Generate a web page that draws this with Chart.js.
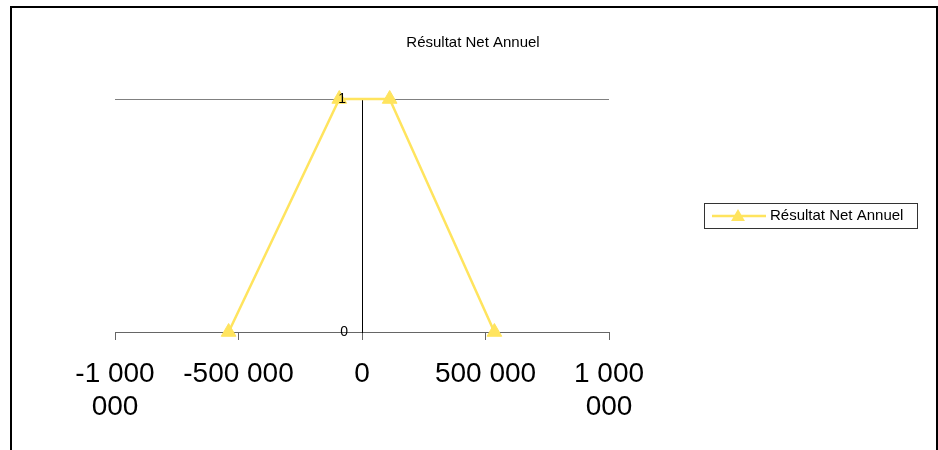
<!DOCTYPE html>
<html>
<head>
<meta charset="utf-8">
<script src="https://cdn.jsdelivr.net/npm/chart.js@4/dist/chart.umd.min.js"></script>
<style>
  html, body { margin: 0; padding: 0; background: #fff; }
  canvas { display: block; }
</style>
</head>
<body>
<canvas id="chart" width="938" height="450"></canvas>
<script>
/* global Chart */

const TITLE = 'Résultat Net Annuel'
const SERIES_NAME = 'Résultat Net Annuel'

// x = résultat, y = niveau
const resultX = [-540000, -92000, 112000, 536000]
const resultY = [0, 1, 1, 0]

const xTicks = [-1000000, -500000, 0, 500000, 1000000]
const xTickLabels = ['-1 000 000', '-500 000', '0', '500 000', '1 000 000']
const yTicks = [0, 1]
const yTickLabels = ['0', '1']

const YELLOW = '#FFE45E'
const FONT = "'Liberation Sans', Arial, sans-serif"

// long labels wrap on two lines like the original
const wrap = s => {
  if (s.length <= 8) return s
  const i = s.lastIndexOf(' ')
  return [s.slice(0, i), s.slice(i + 1)]
}

const triangle = (ctx, x, y, r) => {
  ctx.beginPath()
  ctx.moveTo(x, y - r)
  ctx.lineTo(x + r * Math.sqrt(3) / 2, y + r / 2)
  ctx.lineTo(x - r * Math.sqrt(3) / 2, y + r / 2)
  ctx.closePath()
  ctx.fill()
}

const decor = {
  id: 'decor',
  beforeDraw (chart) {
    const { ctx } = chart
    ctx.save()
    ctx.fillStyle = '#fff'
    ctx.fillRect(0, 0, chart.width, chart.height)
    ctx.restore()
  },
  afterDraw (chart) {
    const { ctx } = chart
    const { x, y } = chart.scales
    ctx.save()
    // outer frame
    ctx.strokeStyle = '#000'
    ctx.lineWidth = 2
    ctx.beginPath()
    ctx.moveTo(11, 450)
    ctx.lineTo(11, 7)
    ctx.lineTo(937, 7)
    ctx.lineTo(937, 450)
    ctx.stroke()

    ctx.fillStyle = '#000'
    ctx.textBaseline = 'middle'

    // y labels sit left of the zero axis
    ctx.font = '14px ' + FONT
    ctx.textAlign = 'right'
    const x0 = x.getPixelForValue(0)
    yTicks.forEach((v, i) => {
      ctx.fillText(yTickLabels[i], x0 - 14 + (v ? -2 : 0), y.getPixelForValue(v))
    })

    // title
    ctx.font = '15px ' + FONT
    ctx.textAlign = 'center'
    ctx.fillText(TITLE, 473, 43)

    // legend
    ctx.lineWidth = 1
    ctx.strokeStyle = '#333'
    ctx.strokeRect(704.5, 203.5, 213, 25)
    ctx.strokeStyle = YELLOW
    ctx.lineWidth = 2.5
    ctx.beginPath()
    ctx.moveTo(712, 216)
    ctx.lineTo(766, 216)
    ctx.stroke()
    ctx.fillStyle = YELLOW
    triangle(ctx, 738, 217, 8)
    ctx.fillStyle = '#000'
    ctx.textAlign = 'left'
    ctx.fillText(SERIES_NAME, 770, 216)
    ctx.restore()
  }
}

const ctx = document.getElementById('chart').getContext('2d')

new Chart(ctx, {
  type: 'scatter',
  data: {
    datasets: [{
      label: SERIES_NAME,
      data: resultX.map((x, i) => ({ x, y: resultY[i] })),
      showLine: true,
      borderColor: YELLOW,
      backgroundColor: YELLOW,
      borderWidth: 2.5,
      pointStyle: 'triangle',
      pointRadius: 8.5,
      pointHoverRadius: 8.5,
      pointBorderWidth: 1,
      clip: false
    }]
  },
  options: {
    responsive: false,
    animation: false,
    events: [],
    layout: { padding: { left: 115, right: 329, top: 99, bottom: 0 } },
    plugins: {
      legend: { display: false },
      title: { display: false },
      tooltip: { enabled: false }
    },
    scales: {
      x: {
        type: 'linear',
        min: -1000000,
        max: 1000000,
        afterBuildTicks: s => { s.ticks = xTicks.map(value => ({ value })) },
        afterFit: s => { s.height = 118 },
        grid: { drawOnChartArea: false, drawTicks: true, tickLength: 8, color: '#666' },
        border: { display: true, color: '#666' },
        ticks: {
          autoSkip: false,
          maxRotation: 0,
          padding: 17,
          color: '#000',
          font: { family: FONT, size: 28, lineHeight: 1.2 },
          callback: (v, i) => wrap(xTickLabels[i])
        }
      },
      y: {
        type: 'linear',
        position: { x: 0 },
        min: 0,
        max: 1,
        afterBuildTicks: s => { s.ticks = yTicks.map(value => ({ value })) },
        grid: { drawTicks: true, tickLength: 5, color: '#808080' },
        border: { display: true, color: '#000' },
        ticks: { display: false }
      }
    }
  },
  plugins: [decor]
})
</script>
</body>
</html>
